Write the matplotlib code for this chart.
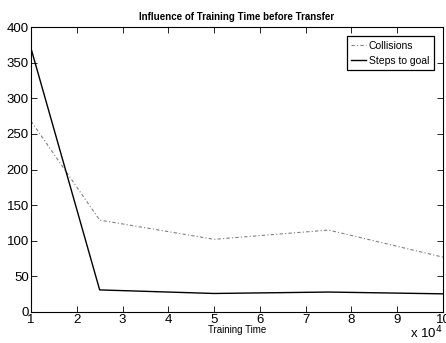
import matplotlib
matplotlib.use('agg')
import matplotlib.pyplot as plt
from matplotlib.ticker import FuncFormatter

plt.rcParams['font.family'] = ['Liberation Sans', 'DejaVu Sans']

steps = [10000, 25000, 50000, 75000, 100000]
collisions = [268, 129, 102, 115, 77]
steps_to_goal = [370, 31, 26, 28, 25.5]

fig = plt.figure(figsize=(4.46, 3.43), dpi=100)
ax = fig.add_axes([31/446, 1 - 312/343, (443-31)/446, (312-27)/343])

ax.plot(steps, collisions, linestyle=(0, (3, 2, 1, 2)), color='0.5', lw=0.8,
        label='Collisions')
ax.plot(steps, steps_to_goal, '-', color='k', lw=1.0, label='Steps to goal')

ax.set_xlim(10000, 100000)
ax.set_ylim(0, 400)
ax.set_xticks(range(10000, 100001, 10000))
ax.set_yticks(range(0, 401, 50))
ax.xaxis.set_major_formatter(FuncFormatter(lambda v, p: '%d' % round(v / 1e4)))
ax.tick_params(direction='in', top=True, right=True, length=4, width=0.6,
               labelsize=9.5, pad=1.5)
for s in ax.spines.values():
    s.set_linewidth(0.8)

ax.set_title('Influence of Training Time before Transfer', fontsize=7,
             fontweight='bold', pad=5)
ax.set_xlabel('Training Time', fontsize=7, labelpad=-1)
fig.text(0.993, 0.004, r'x 10$^4$', fontsize=9.5, ha='right', va='bottom')

leg = ax.legend(loc='upper right', fontsize=7.5, fancybox=False, framealpha=1,
                edgecolor='k', borderpad=0.45, handlelength=1.4, handletextpad=0.25,
                labelspacing=0.45, borderaxespad=0.9)
leg.get_frame().set_linewidth(0.9)

fig.savefig('out.png', dpi=100)
